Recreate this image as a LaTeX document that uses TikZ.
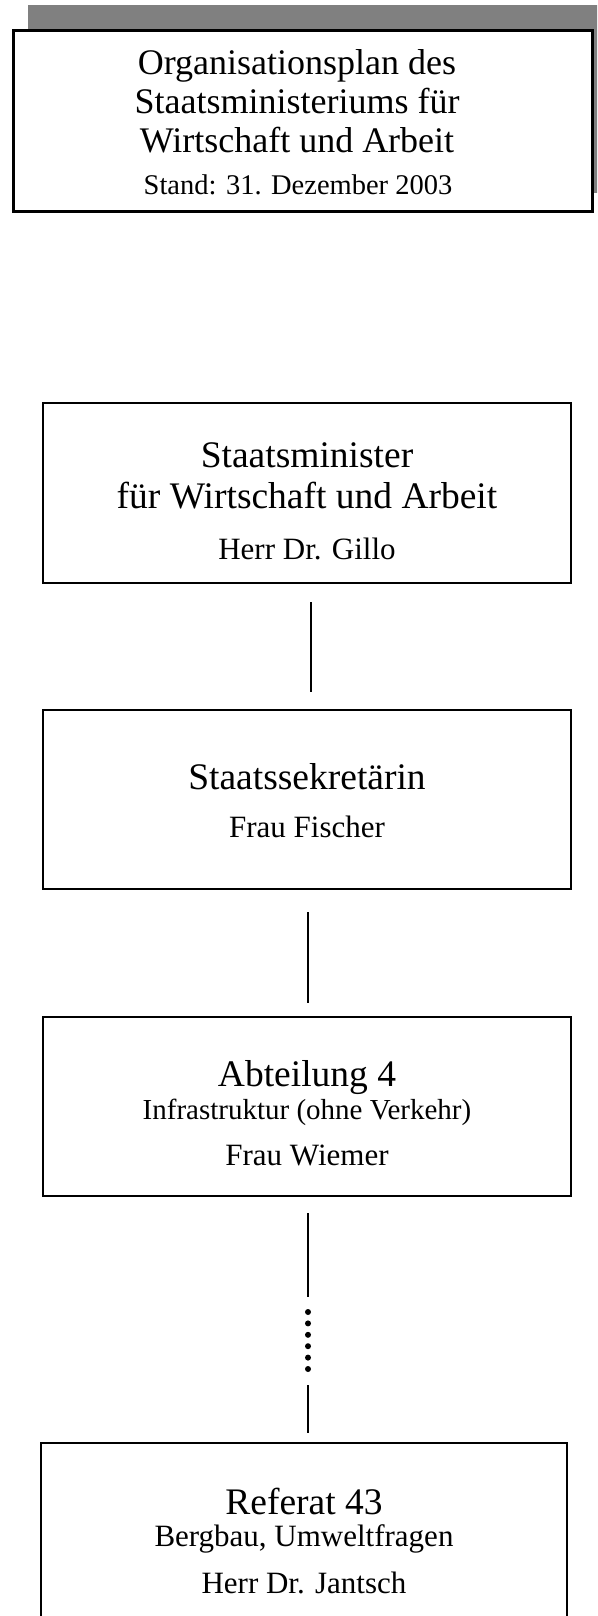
\documentclass[tikz,border=0pt]{standalone}
\usepackage{fontspec}
\setmainfont{Liberation Serif}
\begin{document}
\begin{tikzpicture}[x=1pt,y=-1pt,
  box/.style={draw, line width=2.6pt, rectangle, inner sep=0pt, outer sep=0pt, anchor=north west},
  shadowbox/.style={fill=black!50, draw=none, rectangle, inner sep=0pt, outer sep=0pt, anchor=north west},
  conn/.style={line width=2pt},
  dotm/.style={circle, fill=black, draw=none, inner sep=0pt, minimum size=6pt},
  titlet/.style={anchor=base, inner sep=0pt, font=\fontsize{36}{39}\selectfont},
  standt/.style={anchor=base, inner sep=0pt, font=\fontsize{28.5}{31}\selectfont},
  head/.style={anchor=base, inner sep=0pt, font=\fontsize{37.5}{40}\selectfont},
  subt/.style={anchor=base, inner sep=0pt, font=\fontsize{31}{34}\selectfont},
  smallt/.style={anchor=base, inner sep=0pt, font=\fontsize{29}{32}\selectfont}]
\useasboundingbox (0,0) rectangle (597,1616);
\clip (0,0) rectangle (597,1616);
\fill[white] (0,0) rectangle (597,1616);

% title box with shadow
\node[shadowbox, minimum width=590pt, minimum height=188pt] (tshadow) at (28,5) {};
\node[box, fill=white, line width=3pt, minimum width=579pt, minimum height=180pt] (title) at (13,31) {};
\node[titlet] (t1) at (297,75) {Organisationsplan des};
\node[titlet] (t2) at (297,114) {Staatsministeriums für};
\node[titlet] (t3) at (297,153) {Wirtschaft und Arbeit};
\node[standt] (t4) at (298,195) {Stand: 31. Dezember 2003};

% Staatsminister
\node[box, minimum width=528pt, minimum height=180pt] (b2) at (43,403) {};
\node[head] (b2a) at (307,467) {Staatsminister};
\node[head] (b2b) at (307,508) {für Wirtschaft und Arbeit};
\node[subt] (b2c) at (307,559) {Herr Dr. Gillo};

% Staatssekretaerin
\node[box, minimum width=528pt, minimum height=179pt] (b3) at (43,710) {};
\node[head] (b3a) at (307,789) {Staatssekretärin};
\node[subt] (b3b) at (307,837) {Frau Fischer};

% Abteilung 4
\node[box, minimum width=528pt, minimum height=179pt] (b4) at (43,1017) {};
\node[head] (b4a) at (307,1086) {Abteilung 4};
\node[smallt] (b4b) at (307,1119) {Infrastruktur (ohne Verkehr)};
\node[subt] (b4c) at (307,1165) {Frau Wiemer};

% Referat 43
\node[box, minimum width=526pt, minimum height=200pt] (b5) at (41,1443) {};
\node[head] (b5a) at (304,1514) {Referat 43};
\node[subt] (b5b) at (304,1546) {Bergbau, Umweltfragen};
\node[subt] (b5c) at (304,1593) {Herr Dr. Jantsch};

% connectors
\coordinate (c1a) at (311,602);
\coordinate (c1b) at (311,692);
\draw[conn] (c1a) -- (c1b);
\coordinate (c2a) at (308,912);
\coordinate (c2b) at (308,1003);
\draw[conn] (c2a) -- (c2b);
\coordinate (c3a) at (308,1213);
\coordinate (c3b) at (308,1297);
\draw[conn] (c3a) -- (c3b);
\foreach \i in {0,...,5} {
  \node[dotm] (d\i) at (308,1312+11.4*\i) {};
}
\coordinate (c4a) at (308,1385);
\coordinate (c4b) at (308,1433);
\draw[conn] (c4a) -- (c4b);
\end{tikzpicture}
\end{document}
